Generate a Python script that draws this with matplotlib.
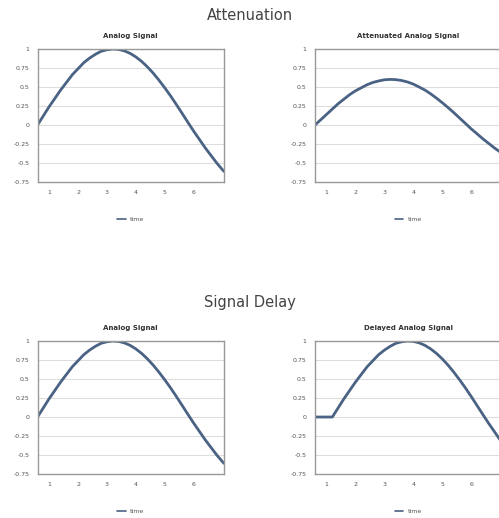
import matplotlib
matplotlib.use("Agg")
import matplotlib.pyplot as plt

# --- data ---
time = [0.6, 0.8, 1.0, 1.2, 1.4, 1.6, 1.8, 2.0, 2.2, 2.4, 2.6, 2.8, 3.0,
        3.2, 3.4, 3.6, 3.8, 4.0, 4.2, 4.4, 4.6, 4.8, 5.0, 5.2, 5.4, 5.6,
        5.8, 6.0, 6.2, 6.4, 6.6, 6.8, 7.0, 7.05]
analog = [0.0, 0.12, 0.24, 0.35, 0.46, 0.56, 0.66, 0.74, 0.82, 0.88, 0.93,
          0.97, 0.99, 1.0, 0.995, 0.976, 0.943, 0.896, 0.837, 0.765, 0.683,
          0.59, 0.49, 0.384, 0.271, 0.154, 0.036, -0.08, -0.19, -0.30,
          -0.40, -0.50, -0.59, -0.61]
attenuated = [0.0, 0.07, 0.14, 0.21, 0.28, 0.34, 0.40, 0.45, 0.49, 0.53,
              0.56, 0.58, 0.595, 0.60, 0.597, 0.585, 0.566, 0.538, 0.50,
              0.46, 0.41, 0.354, 0.294, 0.23, 0.163, 0.092, 0.022, -0.05,
              -0.114, -0.18, -0.24, -0.30, -0.354, -0.366]
delayed = [0.0, 0.0, 0.0, 0.0, 0.12, 0.24, 0.35, 0.46, 0.56, 0.66, 0.74,
           0.82, 0.88, 0.93, 0.97, 0.99, 1.0, 0.995, 0.976, 0.943, 0.896,
           0.837, 0.765, 0.683, 0.59, 0.49, 0.384, 0.271, 0.154, 0.036,
           -0.08, -0.19, -0.30, -0.33]

x_ticks = [1, 2, 3, 4, 5, 6]
y_ticks = [1, 0.75, 0.5, 0.25, 0, -0.25, -0.5, -0.75]
y_labels = ["1", "0.75", "0.5", "0.25", "0", "-0.25", "-0.5", "-0.75"]

line_color = "#4a6283"
text_gray = "#555555"

fig = plt.figure(figsize=(4.99, 5.18), dpi=100)


def draw_chart(rect, y, title):
    ax = fig.add_axes(rect)
    ax.plot(time, y, color=line_color, lw=2.0, label="time",
            solid_capstyle="round")
    ax.set_xlim(0.6, 7.05)
    ax.set_ylim(-0.75, 1)
    ax.set_xticks(x_ticks)
    ax.set_yticks(y_ticks)
    ax.set_yticklabels(y_labels)
    ax.tick_params(length=0, labelsize=4.5, labelcolor=text_gray, pad=6)
    ax.grid(axis="y", color="#dddddd", lw=0.8)
    ax.set_axisbelow(True)
    for s in ax.spines.values():
        s.set_color("#999999")
        s.set_linewidth(1.0)
    ax.set_title(title, fontsize=5, fontweight="bold", color="#333333", pad=8)
    leg = ax.legend(loc="upper center", bbox_to_anchor=(0.5, -0.22),
                    frameon=False, fontsize=4.5, labelcolor=text_gray,
                    handlelength=1.4, handletextpad=0.7)
    leg.get_lines()[0].set_linewidth(1.2)
    return ax


w, h = 0.3737, 0.2568
draw_chart([0.0752, 0.6486, w, h], analog, "Analog Signal")
draw_chart([0.6313, 0.6486, w, h], attenuated, "Attenuated Analog Signal")
draw_chart([0.0752, 0.0849, w, h], analog, "Analog Signal")
draw_chart([0.6313, 0.0849, w, h], delayed, "Delayed Analog Signal")

fig.text(0.5, 1 - 15 / 518, "Attenuation", ha="center", va="center",
         fontsize=10.5, color="#444444")
fig.text(0.5, 1 - 303 / 518, "Signal Delay", ha="center", va="center",
         fontsize=10.5, color="#444444")

fig.savefig("out.png", dpi=100)
